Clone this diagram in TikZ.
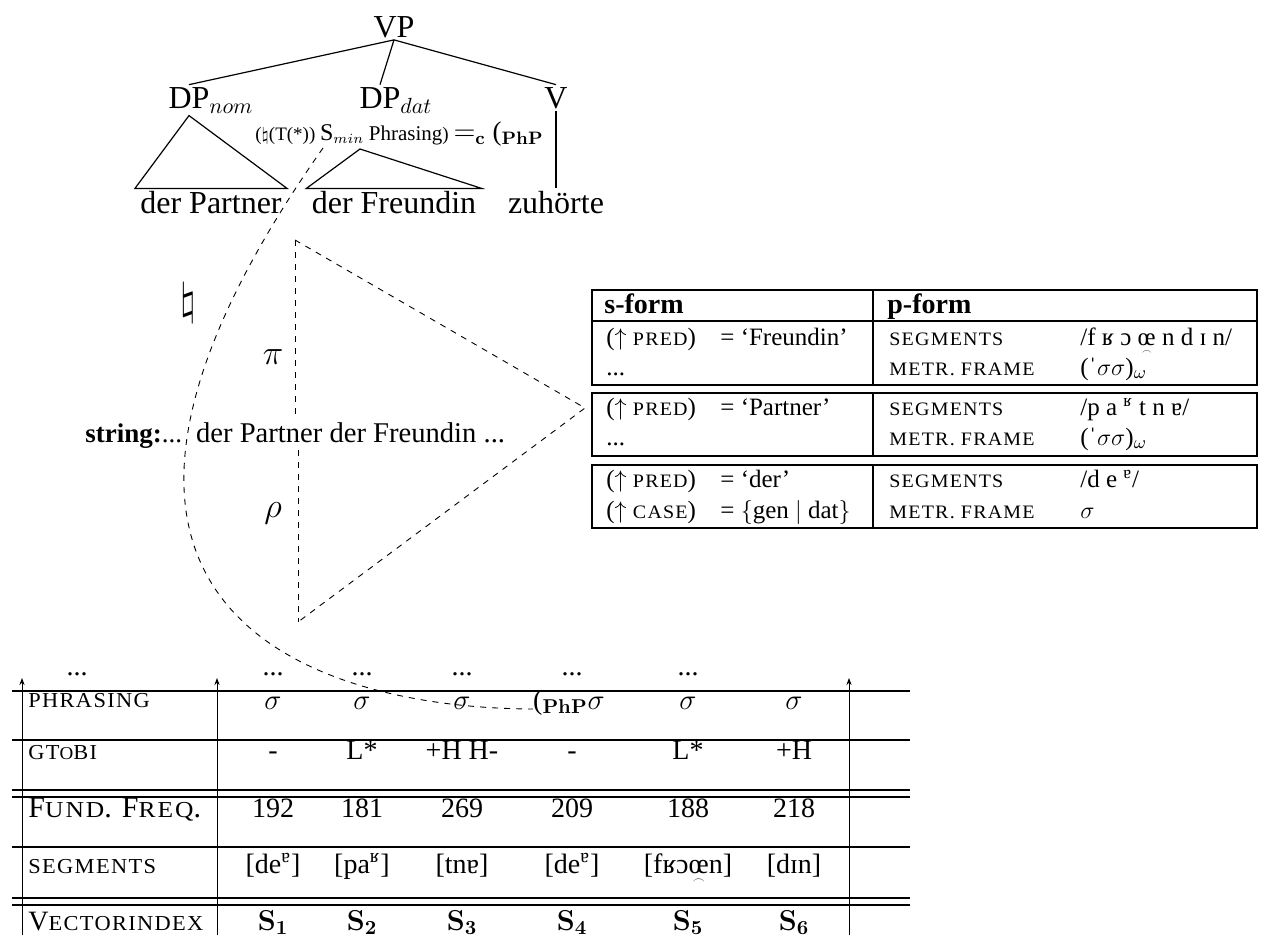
\documentclass[tikz,border=0pt]{standalone}
\usepackage{amsmath}
\usepackage{amssymb}
\usepackage[no-math]{fontspec}
\setmainfont{Liberation Serif}
\usepackage{tikz}
\usetikzlibrary{positioning, arrows.meta, calc}

\newcommand{\fakesc}[1]{\scalebox{0.8}[0.76]{\addfontfeature{LetterSpace=6}#1}}
\newcommand{\widesc}[1]{\scalebox{0.85}[0.76]{\addfontfeature{LetterSpace=8}#1}}
\newcommand{\nonsyl}[1]{\ooalign{#1\cr\hidewidth\raisebox{-0.36em}{\scalebox{0.42}{$\frown$}}\hidewidth\cr}}

\begin{document}
\begin{tikzpicture}[
    x=0.5pt, y=-0.5pt,
    treenode/.style={font=\fontsize{16}{19}\selectfont, inner xsep=2.5pt, inner ysep=1pt, anchor=base},
    edge/.style={line width=0.6pt},
    cond/.style={font=\fontsize{9.5}{11}\selectfont, inner sep=0pt, anchor=base west},
    strtext/.style={font=\fontsize{13.5}{16}\selectfont, inner sep=1pt, anchor=base west},
    greek/.style={font=\fontsize{16}{19}\selectfont},
    proj/.style={dashed, line width=0.45pt},
    formtxt/.style={font=\fontsize{12.5}{15}\selectfont, inner sep=0pt, anchor=base west},
    boxline/.style={line width=1.4pt},
    vdiv/.style={line width=0.8pt},
    cell/.style={font=\fontsize{14}{17}\selectfont, inner sep=0pt, anchor=base},
    rowlab/.style={font=\fontsize{14}{17}\selectfont, inner sep=0pt, anchor=base west},
    hrule/.style={line width=1.2pt},
    thinrule/.style={line width=0.6pt},
    tier/.style={-{Stealth[length=3.5pt, width=2.6pt]}, line width=0.4pt}
]
    \useasboundingbox (0,0) rectangle (1264,938);

    % Tree
    \node[treenode] (VP) at (394,37) {VP};
    \node[treenode] (DPnom) at (189,108) {DP\rlap{$_{nom}$}};
    \node[treenode] (DPdat) at (380,108) {DP\rlap{$_{dat}$}};
    \node[treenode] (V) at (556,108) {V};
    \node[treenode] (partner) at (211,213) {der Partner};
    \node[treenode] (freundin) at (394,213) {der Freundin};
    \node[treenode] (zuhorte) at (556,213) {zuhörte};
    \coordinate (datapex) at (360,149);

    \draw[edge] (VP.south) -- (DPnom.north);
    \draw[edge] (VP.south) -- (DPdat.north);
    \draw[edge] (VP.south) -- (V.north);
    \draw[edge] (DPnom.south) -- (partner.north west) -- (partner.north east) -- cycle;
    \draw[edge] (datapex) -- (freundin.north west) -- (freundin.north east) -- cycle;
    \draw[edge] (V.south) -- (zuhorte.north);

    % Phrasing constraint
    \node[cond] (constraint) at (255,140) {($\natural$(T(*)) {\fontsize{12}{14}\selectfont S}$_{min}$ {\fontsize{10.5}{12}\selectfont Phrasing}) {\fontsize{13.5}{15}\selectfont $=_{\mathbf{c}}$ ($_{\mathbf{PhP}}$}};
    \coordinate (curvestart) at (323,148);

    % String and projections
    \node[strtext] (strline) at (83,442) {\textbf{string:}...\hspace{7pt}{\fontsize{14.3}{17}\selectfont der Partner der Freundin ...}};
    \node[greek] (natsign) at (188,303) {\scalebox{1.3}{$\natural$}};
    \node[greek] (pi) at (273,357) {$\pi$};
    \node[greek] (rho) at (273,513) {$\rho$};
    \coordinate (ptop) at (295,240);
    \coordinate (pbot) at (298,622);
    \coordinate (papex) at (585,408);

    \draw[proj] (ptop) -- (papex) -- (pbot);
    \draw[proj] (ptop) -- (ptop |- strline.north);
    \draw[proj] (strline.south -| pbot) -- (pbot);

    % s-form / p-form
    \draw[boxline] (592,290) rectangle (1257,385);
    \draw[boxline] (592,321) -- (1257,321);
    \draw[boxline] (592,393) rectangle (1257,456);
    \draw[boxline] (592,465) rectangle (1257,528);
    \draw[vdiv] (873,290) -- (873,385);
    \draw[vdiv] (873,393) -- (873,456);
    \draw[vdiv] (873,465) -- (873,528);

    \node[formtxt] (sform) at (604,313) {\fontsize{14}{16}\selectfont\textbf{s-form}};
    \node[formtxt] (pform) at (887,313) {\fontsize{14}{16}\selectfont\textbf{p-form}};

    \node[formtxt] (fpred) at (606,345) {($\uparrow$ \fakesc{PRED})};
    \node[formtxt] (fval) at (720,345) {= ‘Freundin’};
    \node[formtxt] (fseg) at (889,345) {\fakesc{SEGMENTS}};
    \node[formtxt] (fsegval) at (1080,345) {/f ʁ ɔ \nonsyl{œ} n d ɪ n/};
    \node[formtxt] (fdots) at (606,375) {...};
    \node[formtxt] (fmet) at (889,375) {\fakesc{METR. FRAME}};
    \node[formtxt] (fmetval) at (1080,375) {(ˈ$\sigma\sigma$)$_\omega$};

    \node[formtxt] (ppred) at (606,415) {($\uparrow$ \fakesc{PRED})};
    \node[formtxt] (pval) at (720,415) {= ‘Partner’};
    \node[formtxt] (pseg) at (889,415) {\fakesc{SEGMENTS}};
    \node[formtxt] (psegval) at (1080,415) {/p a \textsuperscript{ʁ} t n ɐ/};
    \node[formtxt] (pdots) at (606,445) {...};
    \node[formtxt] (pmet) at (889,445) {\fakesc{METR. FRAME}};
    \node[formtxt] (pmetval) at (1080,445) {(ˈ$\sigma\sigma$)$_\omega$};

    \node[formtxt] (dpred) at (606,487) {($\uparrow$ \fakesc{PRED})};
    \node[formtxt] (dval) at (720,487) {= ‘der’};
    \node[formtxt] (dseg) at (889,487) {\fakesc{SEGMENTS}};
    \node[formtxt] (dsegval) at (1080,487) {/d e \textsuperscript{ɐ}/};
    \node[formtxt] (dcase) at (606,518) {($\uparrow$ \fakesc{CASE})};
    \node[formtxt] (dcaseval) at (720,518) {= $\{$gen $|$ dat$\}$};
    \node[formtxt] (dmet) at (889,518) {\fakesc{METR. FRAME}};
    \node[formtxt] (dmetval) at (1080,518) {$\sigma$};

    % Signal table
    \draw[hrule] (12,691) -- (910,691);
    \draw[hrule] (12,740) -- (910,740);
    \draw[hrule] (12,790) -- (910,790);
    \draw[thinrule] (12,797) -- (910,797);
    \draw[hrule] (12,847) -- (910,847);
    \draw[hrule] (12,898) -- (910,898);
    \draw[thinrule] (12,905) -- (910,905);

    \coordinate (tierL) at (22,935);
    \coordinate (tierM) at (217,935);
    \coordinate (tierR) at (849,935);
    \draw[tier] (tierL) -- ++(0,-257);
    \draw[tier] (tierM) -- ++(0,-257);
    \draw[tier] (tierR) -- ++(0,-257);

    % dots row
    \node[cell] (dots0) at (77,675) {...};
    \node[cell] (dots1) at (273,675) {...};
    \node[cell] (dots2) at (362,675) {...};
    \node[cell] (dots3) at (462,675) {...};
    \node[cell] (dots4) at (572,675) {...};
    \node[cell] (dots5) at (688,675) {...};

    % phrasing
    \node[rowlab] (labphr) at (28,707) {\fakesc{PHRASING}};
    \node[cell] (phr1) at (273,709) {$\sigma$};
    \node[cell] (phr2) at (362,709) {$\sigma$};
    \node[cell] (phr3) at (462,709) {$\sigma$};
    \node[cell] (phr4) at (569,709) {($_{\mathbf{PhP}}\sigma$};
    \node[cell] (phr5) at (688,709) {$\sigma$};
    \node[cell] (phr6) at (794,709) {$\sigma$};

    % gtobi
    \node[rowlab] (labgto) at (28,759) {\fakesc{GT}\scalebox{0.85}{\fakesc{O}}\fakesc{BI}};
    \node[cell] (gto1) at (273,759) {-};
    \node[cell] (gto2) at (362,759) {L*};
    \node[cell] (gto3) at (462,759) {+H H-};
    \node[cell] (gto4) at (572,759) {-};
    \node[cell] (gto5) at (688,759) {L*};
    \node[cell] (gto6) at (794,759) {+H};

    % f0
    \node[rowlab, font=\fontsize{15}{18}\selectfont] (labfreq) at (28,817) {F\widesc{UND}. F\widesc{REQ}.};
    \node[cell] (freq1) at (273,817) {192};
    \node[cell] (freq2) at (362,817) {181};
    \node[cell] (freq3) at (462,817) {269};
    \node[cell] (freq4) at (572,817) {209};
    \node[cell] (freq5) at (688,817) {188};
    \node[cell] (freq6) at (794,817) {218};

    % segments
    \node[rowlab] (labseg) at (28,873) {\fakesc{SEGMENTS}};
    \node[cell] (seg1) at (273,873) {[de\textsuperscript{ɐ}]};
    \node[cell] (seg2) at (362,873) {[pa\textsuperscript{ʁ}]};
    \node[cell] (seg3) at (462,873) {[tnɐ]};
    \node[cell] (seg4) at (572,873) {[de\textsuperscript{ɐ}]};
    \node[cell] (seg5) at (688,873) {[fʁɔ\nonsyl{œ}n]};
    \node[cell] (seg6) at (794,873) {[dɪn]};

    % vector index
    \node[rowlab] (labvec) at (28,930) {V\fakesc{ECTORINDEX}};
    \node[cell] (vec1) at (273,930) {$\mathbf{S}_{\mathbf{1}}$};
    \node[cell] (vec2) at (362,930) {$\mathbf{S}_{\mathbf{2}}$};
    \node[cell] (vec3) at (462,930) {$\mathbf{S}_{\mathbf{3}}$};
    \node[cell] (vec4) at (572,930) {$\mathbf{S}_{\mathbf{4}}$};
    \node[cell] (vec5) at (688,930) {$\mathbf{S}_{\mathbf{5}}$};
    \node[cell] (vec6) at (794,930) {$\mathbf{S}_{\mathbf{6}}$};

    % Correspondence curve
    \draw[proj] (curvestart) .. controls (5,600) and (300,708) .. (phr4.base west);

\end{tikzpicture}
\end{document}
